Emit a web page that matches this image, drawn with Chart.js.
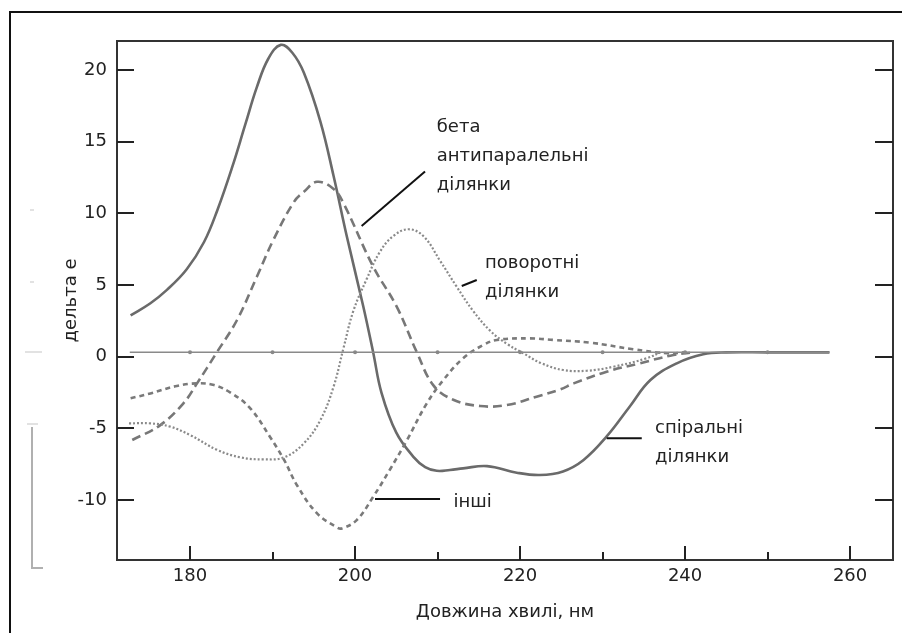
<!DOCTYPE html>
<html>
<head>
<meta charset="utf-8">
<script src="https://cdn.jsdelivr.net/npm/chart.js@4/dist/chart.umd.min.js"></script>
<style>
  html, body { margin: 0; padding: 0; background: #fff; overflow: hidden; }
  #wrap { position: relative; width: 902px; height: 633px; }
</style>
</head>
<body>
<div id="wrap"><canvas id="c"></canvas></div>
<script>
// ---- data ----
const xTicks = [180, 200, 220, 240, 260];
const xMinorTicks = [190, 210, 230, 250];
const yTicks = [-10, -5, 0, 5, 10, 15, 20];

// спіральні ділянки (solid)
const helixX = [172.8, 175.2, 177.2, 179.6, 181.7, 183.3, 185.1, 186.7, 188.1, 189.5, 191.0, 192.4, 193.8, 195.8, 197.4, 199.0, 201.0, 202.2, 203.2, 205.0, 207.1, 208.5, 209.9, 211.5, 213.1, 216.0, 219.6, 222.4, 225.2, 227.7, 230.5, 233.3, 235.8, 239.0, 242.2, 245.0, 250.0, 257.5];
const helixY = [2.88, 3.73, 4.66, 6.1, 8.0, 10.2, 13.2, 16.2, 18.8, 20.8, 21.75, 21.2, 19.8, 16.4, 12.6, 8.4, 3.5, 0.3, -2.5, -5.3, -7.0, -7.7, -7.96, -7.9, -7.79, -7.63, -8.09, -8.25, -8.0, -7.2, -5.56, -3.47, -1.63, -0.46, 0.17, 0.3, 0.3, 0.3];

// бета антипаралельні ділянки (long dash)
const betaX = [173.0, 176.4, 179.2, 180.85, 183.3, 185.7, 188.1, 190.1, 192.6, 193.8, 195.4, 197.4, 198.6, 202.2, 205.05, 207.5, 209.5, 211.9, 215.15, 218.4, 222.0, 224.85, 226.5, 230.5, 234.5, 238.6, 241.0];
const betaY = [-5.81, -4.77, -3.25, -1.86, 0.35, 2.56, 5.58, 8.14, 10.8, 11.5, 12.2, 11.7, 10.7, 6.28, 3.49, 0.3, -2.0, -3.0, -3.44, -3.37, -2.79, -2.28, -1.86, -1.05, -0.46, 0.12, 0.3];

// інші (medium dash)
const otherX = [172.8, 175.2, 178.4, 180.85, 182.9, 184.9, 187.3, 189.7, 191.4, 193.0, 195.4, 197.8, 198.4, 200.2, 202.2, 204.2, 206.3, 208.7, 210.7, 213.1, 215.55, 217.2, 221.2, 224.0, 228.5, 233.7, 237.8, 240.0];
const otherY = [-2.9, -2.56, -2.04, -1.86, -1.98, -2.5, -3.6, -5.6, -7.2, -9.0, -10.93, -11.9, -11.98, -11.4, -9.77, -7.9, -5.81, -3.25, -1.63, -0.11, 0.82, 1.17, 1.28, 1.17, 0.98, 0.52, 0.24, 0.3];

// поворотні ділянки (dotted)
const turnX = [172.6, 175.2, 177.6, 180.0, 183.3, 186.1, 188.9, 191.4, 193.8, 195.8, 197.4, 198.6, 199.8, 201.4, 203.0, 204.6, 206.5, 208.3, 210.3, 212.3, 214.3, 216.4, 218.4, 220.4, 222.6, 225.25, 228.1, 231.3, 235.35, 237.0];
const turnY = [-4.65, -4.65, -4.88, -5.46, -6.5, -7.02, -7.16, -7.02, -6.04, -4.42, -2.09, 0.6, 3.2, 5.4, 7.3, 8.4, 8.89, 8.4, 6.7, 4.9, 3.2, 1.8, 0.9, 0.24, -0.46, -0.93, -0.98, -0.7, -0.11, 0.3];

// baseline
const baseX = [172.7, 180, 190, 200, 210, 220, 230, 240, 250, 257.5];
const baseY = [0.31, 0.31, 0.31, 0.31, 0.31, 0.31, 0.31, 0.31, 0.31, 0.31];

const xTitle = 'Довжина хвилі, нм';
const yTitle = 'дельта е';

// annotations: text lines anchored in data coordinates
const labelTexts = [
  { x: 209.9, y: 15.68, text: 'бета' },
  { x: 209.9, y: 13.65, text: 'антипаралельні' },
  { x: 209.9, y: 11.63, text: 'ділянки' },
  { x: 215.76, y: 6.17, text: 'поворотні' },
  { x: 215.76, y: 4.19, text: 'ділянки' },
  { x: 236.36, y: -5.34, text: 'спіральні' },
  { x: 236.36, y: -7.32, text: 'ділянки' },
  { x: 211.92, y: -10.46, text: 'інші' }
];
const leaderLines = [
  [200.8, 9.12, 208.48, 12.91],
  [212.93, 4.93, 214.75, 5.35],
  [230.5, -5.69, 234.75, -5.69],
  [202.42, -9.93, 210.3, -9.93]
];

const FONT = "'DejaVu Sans', sans-serif";
const pts = (xs, ys) => xs.map((x, i) => ({ x: x, y: ys[i] }));

const decor = {
  id: 'decor',
  beforeDraw(chart) {
    const ctx = chart.ctx;
    ctx.save();
    // outer frame (left + top)
    ctx.strokeStyle = '#111';
    ctx.lineWidth = 2;
    ctx.beginPath();
    ctx.moveTo(10, 633); ctx.lineTo(10, 12); ctx.lineTo(902, 12);
    ctx.stroke();
    // scan artefact at left
    ctx.strokeStyle = '#b0b0b0';
    ctx.lineWidth = 2;
    ctx.beginPath();
    ctx.moveTo(32, 427); ctx.lineTo(32, 568); ctx.lineTo(43, 568);
    ctx.stroke();
    ctx.strokeStyle = '#d8d8d8';
    ctx.lineWidth = 1.5;
    [[25, 352, 42, 352], [27, 424, 38, 424], [30, 282, 34, 282], [30, 210, 34, 210]].forEach(s => {
      ctx.beginPath(); ctx.moveTo(s[0], s[1]); ctx.lineTo(s[2], s[3]); ctx.stroke();
    });
    ctx.restore();
  },
  afterDraw(chart) {
    const ctx = chart.ctx;
    const xs = chart.scales.x, ys = chart.scales.y;
    const a = chart.chartArea;
    ctx.save();
    // plot frame
    ctx.strokeStyle = '#333';
    ctx.lineWidth = 2;
    ctx.strokeRect(a.left, a.top, a.right - a.left, a.bottom - a.top);
    // inward ticks
    ctx.strokeStyle = '#222';
    ctx.beginPath();
    xTicks.forEach(v => { const p = Math.round(xs.getPixelForValue(v)); ctx.moveTo(p, a.bottom); ctx.lineTo(p, a.bottom - 14); });
    xMinorTicks.forEach(v => { const p = Math.round(xs.getPixelForValue(v)); ctx.moveTo(p, a.bottom); ctx.lineTo(p, a.bottom - 8); });
    yTicks.forEach(v => {
      const p = Math.round(ys.getPixelForValue(v));
      ctx.moveTo(a.left, p); ctx.lineTo(a.left + 17, p);
      ctx.moveTo(a.right, p); ctx.lineTo(a.right - 18, p);
    });
    ctx.stroke();
    // leader lines
    ctx.strokeStyle = '#111';
    ctx.lineWidth = 2;
    leaderLines.forEach(l => {
      ctx.beginPath();
      ctx.moveTo(xs.getPixelForValue(l[0]), ys.getPixelForValue(l[1]));
      ctx.lineTo(xs.getPixelForValue(l[2]), ys.getPixelForValue(l[3]));
      ctx.stroke();
    });
    // annotation text
    ctx.fillStyle = '#222';
    ctx.font = '18px ' + FONT;
    ctx.textAlign = 'left';
    ctx.textBaseline = 'alphabetic';
    labelTexts.forEach(t => ctx.fillText(t.text, xs.getPixelForValue(t.x), ys.getPixelForValue(t.y)));
    ctx.restore();
  }
};

new Chart(document.getElementById('c'), {
  type: 'line',
  data: {
    datasets: [
      { label: 'base', data: pts(baseX, baseY), borderColor: '#8a8a8a', borderWidth: 1.5,
        pointRadius: [0, 2, 2, 2, 2, 2, 2, 2, 2, 0], pointBackgroundColor: '#888', pointBorderWidth: 0, tension: 0 },
      { label: 'поворотні ділянки', data: pts(turnX, turnY), borderColor: '#8a8a8a', borderWidth: 2.2,
        borderDash: [2, 2], pointRadius: 0, tension: 0.4 },
      { label: 'інші', data: pts(otherX, otherY), borderColor: '#7a7a7a', borderWidth: 2.6,
        borderDash: [5, 4], pointRadius: 0, tension: 0.4 },
      { label: 'бета антипаралельні ділянки', data: pts(betaX, betaY), borderColor: '#777', borderWidth: 2.6,
        borderDash: [9, 5], pointRadius: 0, tension: 0.4 },
      { label: 'спіральні ділянки', data: pts(helixX, helixY), borderColor: '#6a6a6a', borderWidth: 2.6,
        pointRadius: 0, tension: 0.4 }
    ]
  },
  options: {
    responsive: true,
    maintainAspectRatio: false,
    animation: false,
    events: [],
    layout: { padding: { top: 41, right: 9, left: 0, bottom: 0 } },
    plugins: { legend: { display: false }, tooltip: { enabled: false } },
    scales: {
      x: {
        type: 'linear', min: 171.15, max: 265.2,
        afterBuildTicks: s => { s.ticks = xTicks.map(v => ({ value: v })); },
        afterFit: s => { s.height = 73; },
        grid: { display: false, drawTicks: false },
        border: { display: false },
        ticks: { color: '#222', font: { family: FONT, size: 18 }, padding: 6, maxRotation: 0, autoSkip: false },
        title: { display: true, text: xTitle, color: '#222', font: { family: FONT, size: 18 }, padding: { top: 0, bottom: 10 } }
      },
      y: {
        type: 'linear', min: -14.18, max: 22.02,
        afterBuildTicks: s => { s.ticks = yTicks.map(v => ({ value: v })); },
        afterFit: s => { s.width = 117; },
        grid: { display: false, drawTicks: false },
        border: { display: false },
        ticks: { color: '#222', font: { family: FONT, size: 18 }, padding: 10, autoSkip: false },
        title: { display: true, text: yTitle, color: '#222', font: { family: FONT, size: 18 }, padding: { top: 61, bottom: 0 } }
      }
    }
  },
  plugins: [decor]
});
</script>
</body>
</html>
